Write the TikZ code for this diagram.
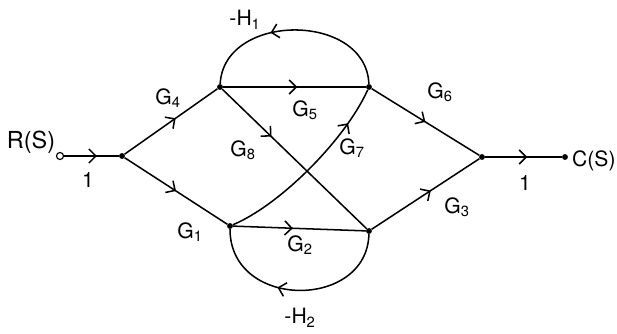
\documentclass[tikz,border=0pt]{standalone}
\usepackage{fontspec}
\setmainfont{TeX Gyre Heros}
\usetikzlibrary{arrows.meta, decorations.markings}

\begin{document}
\begin{tikzpicture}[
    x=0.03cm, y=-0.03cm,
    junction/.style={circle, fill, inner sep=0pt, minimum size=5pt},
    source/.style={circle, draw, line width=1pt, inner sep=0pt, minimum size=6pt},
    gain/.style={font=\fontsize{18}{20}\selectfont, inner sep=1pt},
    signal/.style={font=\fontsize{20}{22}\selectfont, inner sep=1pt},
    branch/.style={line width=1.3pt, postaction={decorate},
        decoration={markings, mark=at position #1 with {\arrow[line width=1.3pt]{Straight Barb[length=6pt, width=12pt]}}}},
    branch/.default=0.5
]
    \useasboundingbox (0,0) rectangle (617,333);

    % nodes of the graph
    \node[source] (R) at (60,156) {};
    \node[junction] (A) at (122,156) {};
    \node[junction] (B) at (220,87) {};
    \node[junction] (C) at (369,87) {};
    \node[junction] (D) at (230,226) {};
    \node[junction] (E) at (369,231) {};
    \node[junction] (F) at (482,157) {};
    \node[junction] (Y) at (565,157) {};

    % forward branches
    \draw[branch=0.6] (R) -- (A);
    \draw[branch=0.55] (A) -- (B);
    \draw[branch=0.5] (A) -- (D);
    \draw[branch=0.52] (B) -- (C);
    \draw[branch=0.34] (B) -- (E);
    \draw[branch=0.45] (D) -- (E);
    \draw[branch=0.8] (D) .. controls (280,205) and (345,140) .. (C);
    \draw[branch=0.5] (C) -- (F);
    \draw[branch=0.55] (E) -- (F);
    \draw[branch=0.55] (F) -- (Y);

    % feedback loops
    \draw[branch=0.62] (C) .. controls (366,12) and (224,12) .. (B);
    \draw[branch=0.6] (E) .. controls (367,310) and (230,310) .. (D);

    % labels
    \node[signal] (r_lbl) at (31,142) {R(S)};
    \node[gain, anchor=west, inner sep=0pt] (c_lbl) at (572,161) {C(S)};
    \node[gain] (one_in) at (88,180) {1};
    \node[gain] (one_out) at (525,183) {1};
    \node[gain] (g4) at (168,98) {G\textsubscript{4}};
    \node[gain] (g1) at (190,232) {G\textsubscript{1}};
    \node[gain] (g5) at (305,110) {G\textsubscript{5}};
    \node[gain] (g8) at (243,150) {G\textsubscript{8}};
    \node[gain] (g7) at (352,148) {G\textsubscript{7}};
    \node[gain] (g6) at (440,92) {G\textsubscript{6}};
    \node[gain] (g2) at (300,245) {G\textsubscript{2}};
    \node[gain] (g3) at (457,207) {G\textsubscript{3}};
    \node[gain] (h1) at (245,20) {-H\textsubscript{1}};
    \node[gain] (h2) at (300,318) {-H\textsubscript{2}};
\end{tikzpicture}
\end{document}
